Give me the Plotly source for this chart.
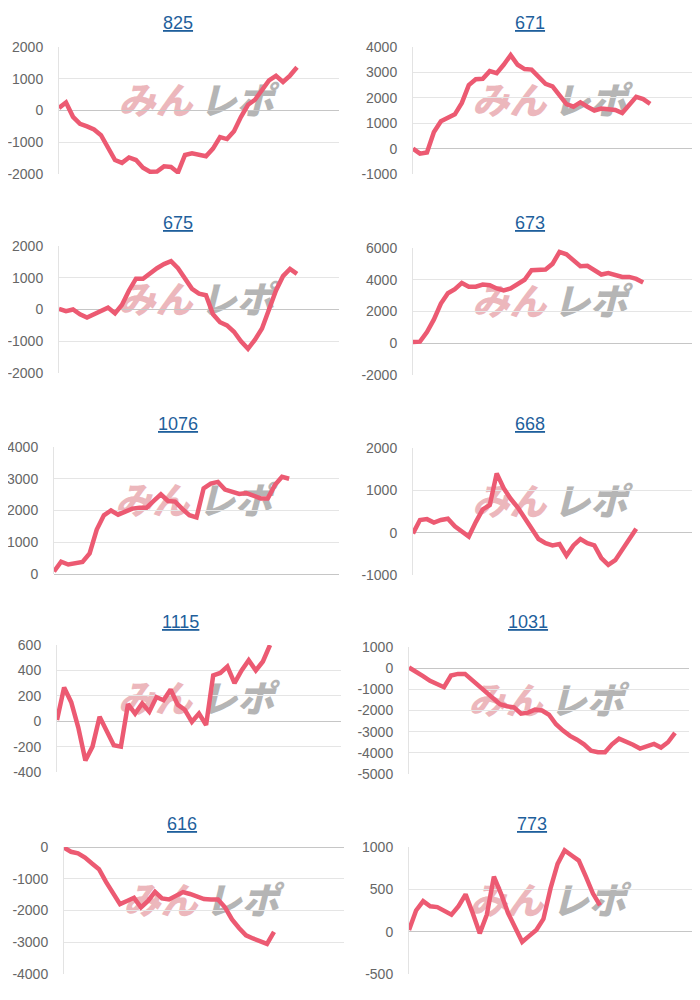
import plotly.graph_objects as go

# ---------------- data ----------------
titles = ["825", "671", "675", "673", "1076", "668", "1115", "1031", "616", "773"]

s825 = [80, 250, -200, -420, -500, -600, -780, -1200, -1560, -1650, -1480, -1560,
        -1800, -1930, -1920, -1760, -1780, -1950, -1400, -1350, -1380, -1440, -1200,
        -840, -900, -650, -200, 180, 340, 650, 950, 1090, 900, 1100, 1360]
s671 = [0, -200, -150, 650, 1080, 1200, 1350, 1800, 2500, 2730, 2750, 3050, 2970,
        3300, 3680, 3300, 3130, 3110, 2850, 2550, 2450, 2100, 1750, 1650, 1820, 1650,
        1500, 1580, 1560, 1520, 1400, 1700, 2040, 1950, 1760]
s675 = [20, -50, 0, -150, -250, -150, -30, 60, -120, 150, 600, 970, 970, 1150, 1300,
        1430, 1520, 1300, 1000, 650, 500, 450, -150, -400, -500, -700, -1000, -1240,
        -950, -600, 0, 600, 1050, 1280, 1120]
s673 = [80, 100, 700, 1500, 2500, 3150, 3400, 3800, 3560, 3560, 3700, 3650, 3450,
        3330, 3450, 3700, 4000, 4600, 4640, 4650, 5000, 5750, 5600, 5250, 4850, 4880,
        4600, 4330, 4420, 4300, 4180, 4180, 4050, 3820]
s1076 = [80, 390, 300, 330, 380, 650, 1400, 1850, 2000, 1870, 1950, 2060, 2090, 2090,
         2300, 2510, 2300, 2280, 2050, 1850, 1780, 2700, 2850, 2900, 2660, 2580, 2520,
         2550, 2450, 2380, 2380, 2800, 3060, 3000]
s668 = [-20, 300, 320, 240, 300, 330, 150, 20, -90, 250, 550, 650, 1400, 1050, 800,
        600, 350, 100, -150, -250, -300, -270, -540, -300, -150, -250, -300, -600,
        -760, -650, -400, -130, 90]
s1115 = [10, 265, 150, -50, -310, -200, 35, -80, -190, -200, 135, 60, 140, 75, 190,
         165, 250, 130, 90, -5, 60, -30, 360, 380, 430, 300, 400, 480, 400, 470, 600]
s1031 = [30, -150, -380, -600, -780, -900, -350, -270, -270, -550, -880, -1180, -1450,
         -1700, -1800, -1850, -2150, -2100, -1960, -2000, -2200, -2650, -2950, -3200,
         -3380, -3600, -3900, -3970, -3970, -3600, -3330, -3450, -3620, -3800, -3700,
         -3580, -3750, -3500, -3060]
s616 = [-20, -150, -200, -330, -520, -700, -1100, -1480, -1800, -1700, -1600, -1900,
        -1700, -1410, -1620, -1650, -1550, -1420, -1480, -1560, -1640, -1650, -1650,
        -1900, -2280, -2550, -2780, -2880, -2980, -3050, -2670]
s773 = [20, 250, 360, 300, 290, 250, 200, 300, 440, 220, -20, 200, 650, 450, 220, 50,
        -120, -50, 20, 150, 510, 800, 960, 900, 840, 650, 450, 310]

series = [s825, s671, s675, s673, s1076, s668, s1115, s1031, s616, s773]

ticks_825 = ["-2000", "-1000", "0", "1000", "2000"]
ticks_671 = ["-1000", "0", "1000", "2000", "3000", "4000"]
ticks_675 = ["-2000", "-1000", "0", "1000", "2000"]
ticks_673 = ["-2000", "0", "2000", "4000", "6000"]
ticks_1076 = ["0", "1000", "2000", "3000", "4000"]
ticks_668 = ["-1000", "0", "1000", "2000"]
ticks_1115 = ["-400", "-200", "0", "200", "400", "600"]
ticks_1031 = ["-5000", "-4000", "-3000", "-2000", "-1000", "0", "1000"]
ticks_616 = ["-4000", "-3000", "-2000", "-1000", "0"]
ticks_773 = ["-500", "0", "500", "1000"]

tick_labels = [ticks_825, ticks_671, ticks_675, ticks_673, ticks_1076,
               ticks_668, ticks_1115, ticks_1031, ticks_616, ticks_773]

X_SLOTS = 40  # number of time slots on the horizontal axis

# ---------------- layout ----------------
# page body has an 8px margin; the figure is sized so the page fits 700x1000
OFF = 8
W, H = 700 - 2 * OFF, 1000 - 2 * OFF
boxes = [  # (left, right, top, bottom) in window px
    (59, 339, 47, 174), (413, 692, 47, 174),
    (59, 339, 246, 373), (413, 692, 248, 375),
    (54, 339, 447, 574), (413, 692, 448, 575),
    (57, 341, 645, 772), (409, 689, 647, 774),
    (64, 344, 847, 974), (409, 692, 847, 974),
]
title_pos = [(178, 23), (530, 23), (178, 223), (530, 223), (178, 424),
             (530, 424), (180, 622), (528, 622), (182, 824), (532, 824)]


def fx(px):
    return (px - OFF) / W


def fy(px):
    return 1 - (px - OFF) / H


LINE = "#EC5A72"
FONT = "Liberation Sans, Arial, Helvetica, sans-serif"

fig = go.Figure()
layout = dict(
    width=W, height=H, margin=dict(l=0, r=0, t=0, b=0, autoexpand=False),
    paper_bgcolor="white", plot_bgcolor="white",
    showlegend=False, hovermode=False,
    font=dict(family=FONT, color="#666666", size=14),
)
annotations = []
shapes = []

for i, (vals, labels) in enumerate(zip(series, tick_labels)):
    n = i + 1
    xa = "x" if n == 1 else f"x{n}"
    ya = "y" if n == 1 else f"y{n}"
    l, r, t, b = boxes[i]
    fig.add_trace(go.Scatter(
        x=list(range(len(vals))), y=vals, xaxis=xa, yaxis=ya,
        mode="lines", line=dict(color=LINE, width=4.5, shape="linear"),
        hoverinfo="skip",
    ))
    tv = [int(s) for s in labels]
    layout[f"xaxis{n}"] = dict(
        domain=[fx(l), fx(r)], anchor=ya, range=[0, X_SLOTS],
        showgrid=False, zeroline=False, showticklabels=False, ticks="",
        showline=False, fixedrange=True, automargin=False,
    )
    layout[f"yaxis{n}"] = dict(
        domain=[fy(b), fy(t)], anchor=xa, range=[min(tv), max(tv)],
        tickmode="array", tickvals=tv, ticktext=labels,
        showgrid=True, gridcolor="#e5e5e5", gridwidth=1,
        zeroline=True, zerolinecolor="#c6c6c6", zerolinewidth=1,
        showline=True, linecolor="#e3e3e3", linewidth=1,
        ticks="", ticklabelstandoff=12, automargin=False,
        tickfont=dict(family=FONT, size=14, color="#666666"),
        fixedrange=True,
    )
    tx, ty = title_pos[i]
    annotations.append(dict(
        text=f"<u>{titles[i]}</u>", x=fx(tx), y=fy(ty), xref="paper", yref="paper",
        xanchor="center", yanchor="middle", showarrow=False,
        font=dict(family=FONT, size=18, color="#1f5f9c"),
    ))
    # watermark logo (drawn below the line)
    dref_x = f"{xa} domain"
    dref_y = f"{ya} domain"
    shapes.append(dict(
        type="rect", xref=dref_x, yref=dref_y, x0=0.22, x1=0.47, y0=0.43, y1=0.67,
        line=dict(width=0), fillcolor="rgba(0,0,0,0)", layer="below",
        label=dict(text="みん", font=dict(family="Noto Sans CJK JP", size=37,
                                         color="#ecb7bc", weight=900, style="italic")),
    ))
    shapes.append(dict(
        type="rect", xref=dref_x, yref=dref_y, x0=0.50, x1=0.77, y0=0.43, y1=0.67,
        line=dict(width=0), fillcolor="rgba(0,0,0,0)", layer="below",
        label=dict(text="レポ", font=dict(family="Noto Sans CJK JP", size=37,
                                         color="#b5b5b5", weight=900, style="italic")),
    ))

layout["annotations"] = annotations
layout["shapes"] = shapes
fig.update_layout(**layout)
fig.write_html("out.html")
